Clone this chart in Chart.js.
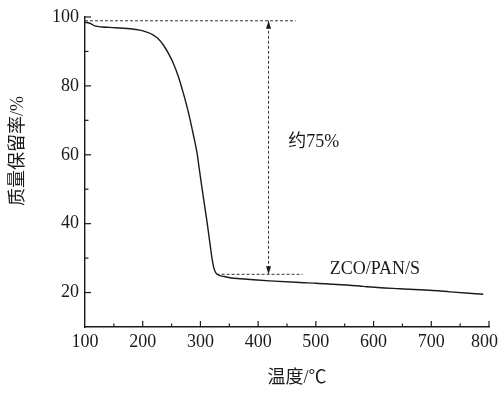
<!DOCTYPE html>
<html>
<head>
<meta charset="utf-8">
<script src="https://cdn.jsdelivr.net/npm/chart.js@4.4.0/dist/chart.umd.min.js"></script>
<style>
  html, body { margin: 0; padding: 0; background: #fff; }
  #wrap { width: 499px; height: 393px; position: relative; }
</style>
</head>
<body>
<div id="wrap"><canvas id="tga"></canvas></div>
<script>
// TGA curve of ZCO/PAN/S
const temps = [100, 110, 117, 130, 143, 160, 178, 195, 207, 217, 226, 236, 245, 253, 262, 270, 276, 282, 288, 294, 298, 302, 306, 311, 314, 317, 320, 323, 326, 331, 340, 351, 370, 386, 420, 473, 501, 530, 576, 588, 646, 703, 733, 790];
const retention = [98.5, 98.1, 97.4, 97.1, 97.0, 96.8, 96.6, 96.2, 95.6, 94.9, 93.8, 91.8, 89.3, 86.6, 82.6, 78.1, 74.4, 70.3, 65.6, 60.6, 55.9, 51.2, 46.6, 41.0, 37.4, 33.6, 30.0, 27.3, 25.9, 25.1, 24.7, 24.3, 24.0, 23.8, 23.4, 22.9, 22.7, 22.4, 21.9, 21.7, 21.1, 20.6, 20.2, 19.5];

// reference lines and the 75 % loss arrow
const topLevel = 98.9;
const bottomLevel = 25.3;
const topDashX = [100, 465];
const bottomDashX = [328, 477];
const arrowX = 418;

const xTickLabels = [100, 200, 300, 400, 500, 600, 700, 800];
const yTickLabels = [20, 40, 60, 80, 100];

const ink = '#1a1a1a';
const serif = '"Liberation Serif", "Noto Sans CJK SC", serif';

const dashStyle = { borderColor: '#333', borderWidth: 1, borderDash: [3, 2], pointRadius: 0, fill: false };

const extras = {
  id: 'extras',
  afterDatasetsDraw(chart) {
    const { ctx, scales: { x, y }, chartArea } = chart;
    ctx.save();
    ctx.fillStyle = ink;
    ctx.strokeStyle = ink;

    // inward tick marks
    ctx.lineWidth = 1.2;
    for (let v = 150; v <= 800; v += 50) {
      const px = x.getPixelForValue(v);
      const len = xTickLabels.includes(v) ? 6 : 3.5;
      ctx.beginPath();
      ctx.moveTo(px, chartArea.bottom);
      ctx.lineTo(px, chartArea.bottom - len);
      ctx.stroke();
    }
    for (let v = 20; v <= 100; v += 10) {
      const py = y.getPixelForValue(v);
      const len = yTickLabels.includes(v) ? 6 : 3.5;
      ctx.beginPath();
      ctx.moveTo(chartArea.left, py);
      ctx.lineTo(chartArea.left + len, py);
      ctx.stroke();
    }

    // x tick labels, the last one kept inside the canvas
    ctx.font = '18px ' + serif;
    ctx.textBaseline = 'alphabetic';
    ctx.textAlign = 'center';
    xTickLabels.forEach(v => {
      const w = ctx.measureText(String(v)).width;
      let px = x.getPixelForValue(v);
      px = Math.min(px, chart.width - 1 - w / 2);
      ctx.fillText(String(v), px, chartArea.bottom + 20);
    });

    // arrow heads
    const ax = x.getPixelForValue(arrowX);
    const yTop = y.getPixelForValue(topLevel);
    const yBot = y.getPixelForValue(bottomLevel);
    ctx.beginPath();
    ctx.moveTo(ax, yTop);
    ctx.lineTo(ax - 2.5, yTop + 8);
    ctx.lineTo(ax + 2.5, yTop + 8);
    ctx.closePath();
    ctx.fill();
    ctx.beginPath();
    ctx.moveTo(ax, yBot);
    ctx.lineTo(ax - 2.5, yBot - 8);
    ctx.lineTo(ax + 2.5, yBot - 8);
    ctx.closePath();
    ctx.fill();

    // annotations
    ctx.textBaseline = 'middle';
    ctx.textAlign = 'left';
    ctx.fillText('约75%', x.getPixelForValue(452), y.getPixelForValue(63.6));
    ctx.fillText('ZCO/PAN/S', x.getPixelForValue(524), y.getPixelForValue(26.8));

    // axis titles
    ctx.textAlign = 'center';
    ctx.fillText('温度/℃', 297, 378);
    ctx.translate(18, 151);
    ctx.rotate(-Math.PI / 2);
    ctx.fillText('质量保留率/%', 0, 0);
    ctx.restore();
  }
};

new Chart(document.getElementById('tga'), {
  type: 'line',
  data: {
    datasets: [
      {
        data: temps.map((t, i) => ({ x: t, y: retention[i] })),
        borderColor: ink,
        borderWidth: 1.4,
        pointRadius: 0,
        cubicInterpolationMode: 'monotone',
        fill: false
      },
      { ...dashStyle, data: topDashX.map(t => ({ x: t, y: topLevel })) },
      { ...dashStyle, data: bottomDashX.map(t => ({ x: t, y: bottomLevel })) },
      { ...dashStyle, data: [{ x: arrowX, y: topLevel }, { x: arrowX, y: bottomLevel }] }
    ]
  },
  options: {
    responsive: true,
    maintainAspectRatio: false,
    animation: false,
    layout: { padding: { left: 0, right: 10, top: 17, bottom: 0 } },
    plugins: { legend: { display: false }, tooltip: { enabled: false } },
    scales: {
      x: {
        type: 'linear',
        min: 100,
        max: 800,
        border: { display: true, color: ink, width: 1.4 },
        grid: { display: false, drawTicks: false },
        ticks: { display: false, stepSize: 100 },
        afterFit(s) { s.height = 66; s.paddingLeft = 0; s.paddingRight = 0; }
      },
      y: {
        min: 10,
        max: 100,
        border: { display: true, color: ink, width: 1.4 },
        grid: { display: false, drawTicks: false },
        ticks: {
          stepSize: 10,
          padding: 6,
          color: ink,
          font: { family: serif, size: 18 },
          callback: v => (yTickLabels.includes(v) ? String(v) : '')
        },
        afterFit(s) { s.width = 85; s.paddingTop = 0; s.paddingBottom = 0; }
      }
    }
  },
  plugins: [extras]
});
</script>
</body>
</html>
